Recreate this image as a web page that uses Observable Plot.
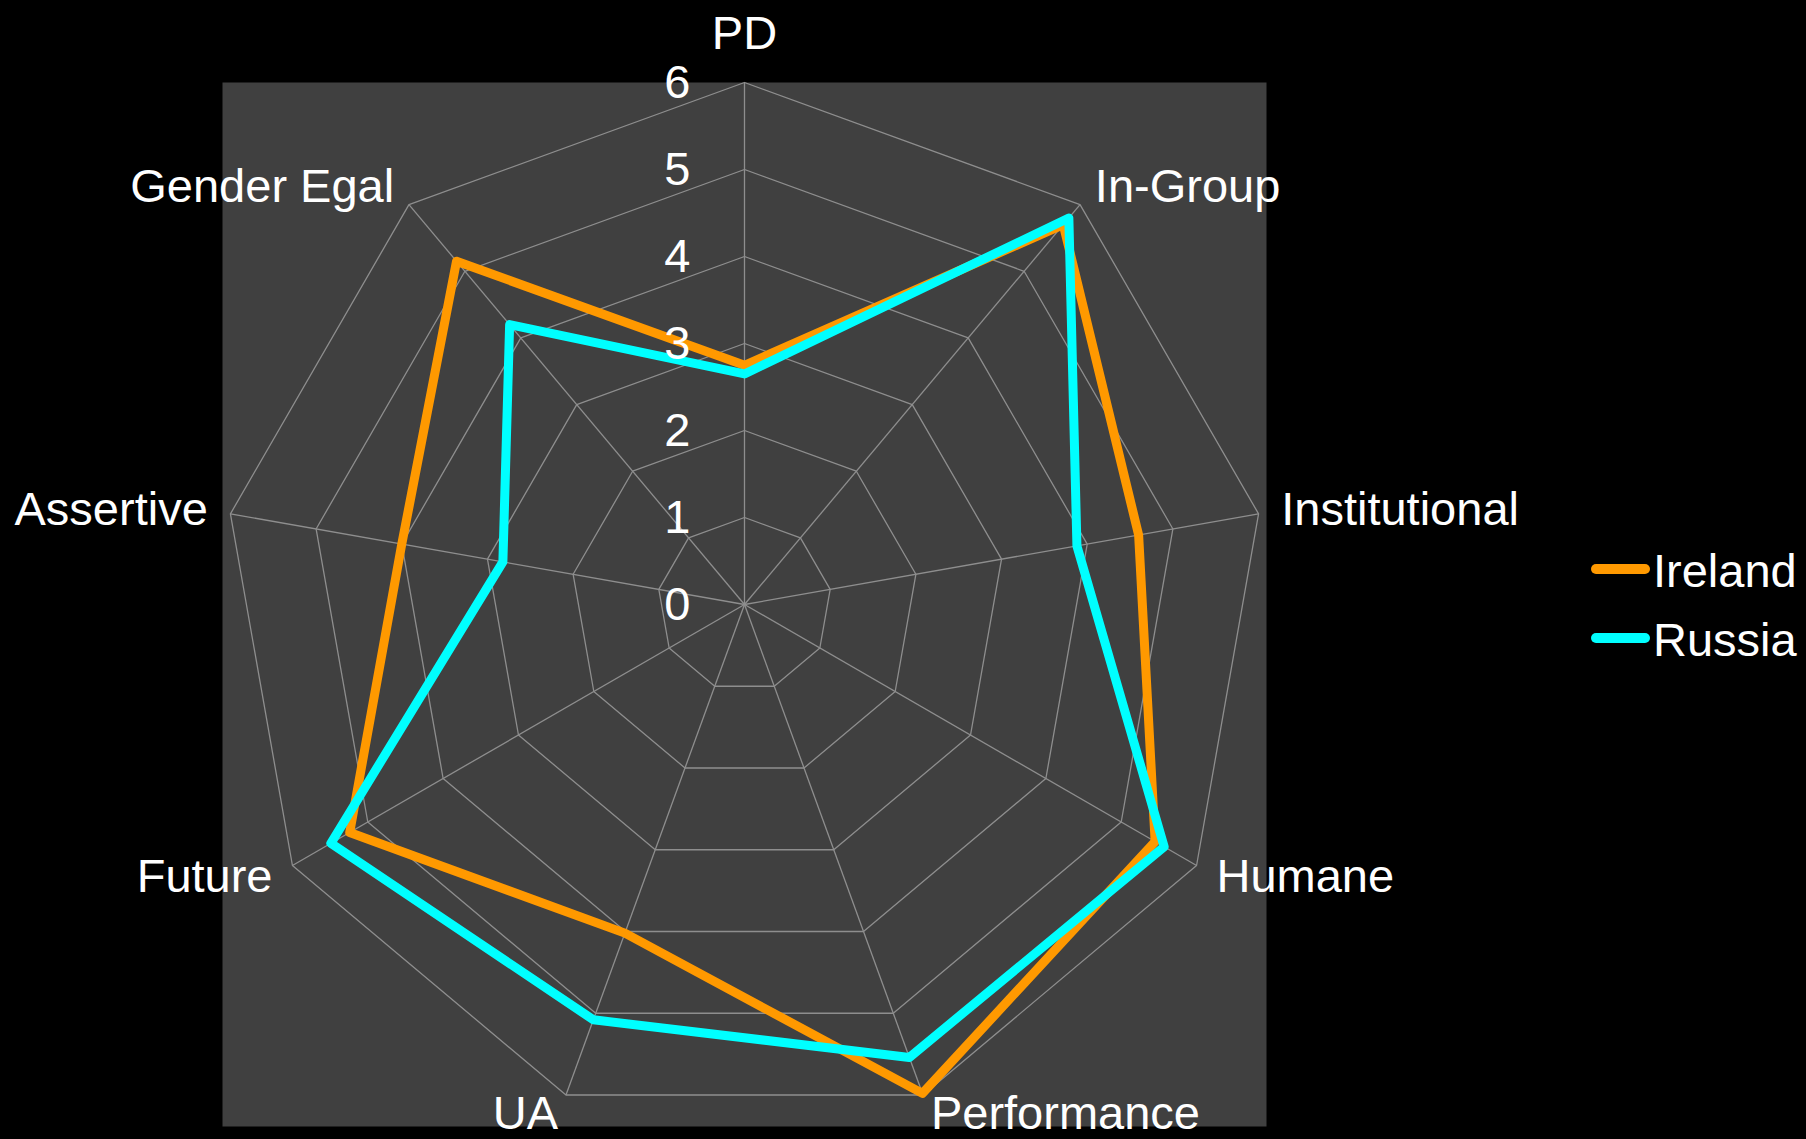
<!DOCTYPE html>
<html>
<head>
<meta charset="utf-8">
<script src="https://cdn.jsdelivr.net/npm/d3@7"></script>
<script src="https://cdn.jsdelivr.net/npm/@observablehq/plot@0.6"></script>
<style>
  html, body { margin: 0; padding: 0; background: #000; }
  #wrap { position: relative; width: 1806px; height: 1139px; overflow: hidden; }
  #legend { position: absolute; left: 1580px; top: 530px; }
  text { font-family: "Liberation Sans", Arial, sans-serif; }
</style>
</head>
<body>
<div id="wrap"><div id="chart"></div><svg id="legend" width="226" height="150"></svg></div>
<script>
const categories = ["PD", "In-Group", "Institutional", "Humane", "Performance", "UA", "Future", "Assertive", "Gender Egal"];
const ireland = [2.75, 5.7, 4.6, 5.45, 5.98, 4.02, 5.24, 4.0, 5.15];
const russia  = [2.65, 5.8, 3.88, 5.57, 5.54, 5.08, 5.49, 2.82, 4.2];
const seriesNames = ["Ireland", "Russia"];
const seriesColors = ["#FF9900", "#00FFFF"];
const tickLabels = ["0", "1", "2", "3", "4", "5", "6"];

const maxR = 6;
const n = categories.length;
const ang = i => 2 * Math.PI * i / n;
const levels = tickLabels.map(Number);

// grid rings
const rings = [];
levels.filter(l => l > 0).forEach(l => {
  categories.forEach((c, i) => rings.push({level: l, x: l * Math.sin(ang(i)), y: l * Math.cos(ang(i))}));
});
// spokes
const spokes = categories.map((c, i) => ({x2: maxR * Math.sin(ang(i)), y2: maxR * Math.cos(ang(i))}));
// series
const seriesValues = [ireland, russia];
const pts = [];
seriesNames.forEach((s, k) => {
  seriesValues[k].forEach((v, i) => pts.push({series: s, x: v * Math.sin(ang(i)), y: v * Math.cos(ang(i))}));
});

const FS = 47;
const labelMarks = categories.map((c, i) => {
  const s = Math.sin(ang(i)), co = Math.cos(ang(i));
  const anchor = Math.abs(s) < 0.1 ? "middle" : (s > 0 ? "start" : "end");
  const dx = 23 * s;
  let dy = -23 * co - (Math.abs(s) < 0.1 ? 26 * Math.sign(co) : 0);
  if (co < -0.9) dy -= 3;
  return Plot.text([c], {
    x: () => maxR * s, y: () => maxR * co, text: d => d,
    textAnchor: anchor, lineAnchor: "middle", dx, dy,
    fill: "white", fontSize: FS
  });
});

const chart = Plot.plot({
  width: 1806,
  height: 1139,
  marginLeft: 222,
  marginRight: 540,
  marginTop: 82,
  marginBottom: 13,
  x: {domain: [-maxR, maxR], axis: null},
  y: {domain: [-maxR, maxR], axis: null},
  color: {domain: seriesNames, range: seriesColors},
  style: {background: "#000", fontFamily: "'Liberation Sans', Arial, sans-serif"},
  marks: [
    Plot.frame({fill: "#404040", stroke: null}),
    Plot.line(rings, {x: "x", y: "y", z: "level", curve: "linear-closed", stroke: "#8e8e8e", strokeWidth: 1.3}),
    Plot.link(spokes, {x1: 0, y1: 0, x2: "x2", y2: "y2", stroke: "#8e8e8e", strokeWidth: 1.3}),
    Plot.line(pts, {x: "x", y: "y", z: "series", stroke: "series", curve: "linear-closed", strokeWidth: 9, strokeLinejoin: "round"}),
    Plot.text(tickLabels, {x: 0, y: d => +d, text: d => d, textAnchor: "end", lineAnchor: "middle", dx: -54, fill: "white", fontSize: FS}),
    ...labelMarks
  ]
});
document.getElementById("chart").appendChild(chart);

// legend
const lg = d3.select("#legend");
seriesNames.forEach((s, k) => {
  const yy = 39 + k * 69;
  lg.append("line").attr("x1", 16).attr("x2", 65).attr("y1", yy).attr("y2", yy)
    .attr("stroke", seriesColors[k]).attr("stroke-width", 10).attr("stroke-linecap", "round");
  lg.append("text").attr("x", 73).attr("y", yy + 18).attr("fill", "white")
    .attr("font-size", FS).text(s);
});
</script>
</body>
</html>
